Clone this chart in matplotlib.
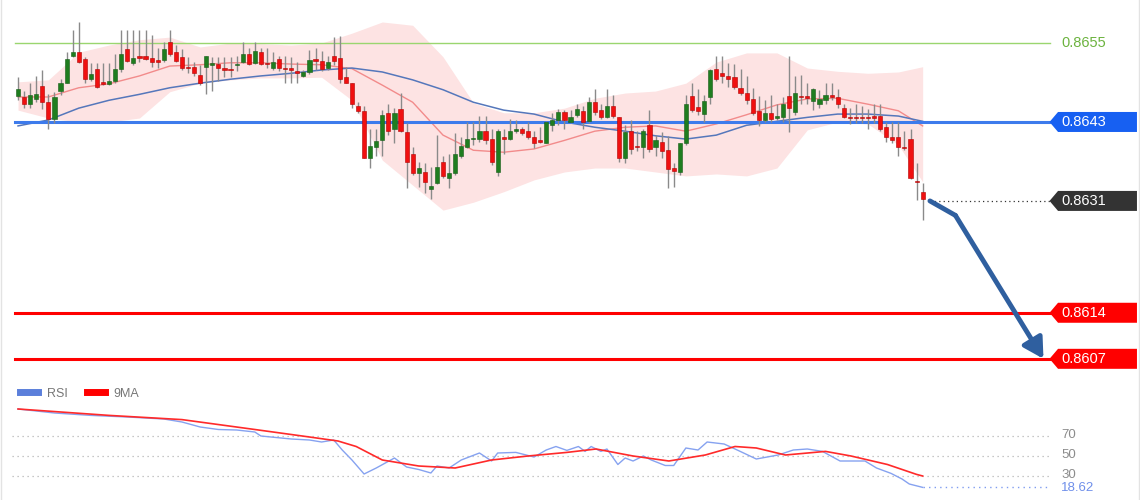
import matplotlib
matplotlib.use("Agg")
import matplotlib.pyplot as plt
from matplotlib.patches import Polygon
from matplotlib.lines import Line2D

plt.rcParams["font.family"] = ["Liberation Sans", "DejaVu Sans"]

# =========================
# 1. Data
# =========================
opens = [0.86469, 0.86468, 0.86457, 0.86465, 0.86484, 0.86460, 0.86434, 0.86477, 0.86490, 0.86530,
         0.86536, 0.86525, 0.86495, 0.86510, 0.86490, 0.86487, 0.86492, 0.86510, 0.86541, 0.86519,
         0.86530, 0.86531, 0.86527, 0.86524, 0.86524, 0.86551, 0.86536, 0.86528, 0.86513, 0.86513,
         0.86501, 0.86513, 0.86516, 0.86518, 0.86512, 0.86510, 0.86516, 0.86521, 0.86533, 0.86519,
         0.86536, 0.86519, 0.86512, 0.86525, 0.86512, 0.86512, 0.86506, 0.86500, 0.86506, 0.86525,
         0.86522, 0.86512, 0.86530, 0.86527, 0.86498, 0.86490, 0.86454, 0.86446, 0.86376, 0.86392,
         0.86402, 0.86443, 0.86419, 0.86449, 0.86414, 0.86381, 0.86352, 0.86354, 0.86328, 0.86337,
         0.86369, 0.86345, 0.86352, 0.86379, 0.86392, 0.86404, 0.86404, 0.86417, 0.86404, 0.86354,
         0.86407, 0.86404, 0.86416, 0.86420, 0.86417, 0.86407, 0.86402, 0.86398, 0.86425, 0.86433,
         0.86445, 0.86430, 0.86440, 0.86446, 0.86431, 0.86460, 0.86448, 0.86437, 0.86455, 0.86437,
         0.86376, 0.86416, 0.86393, 0.86392, 0.86425, 0.86392, 0.86399, 0.86387, 0.86360, 0.86354,
         0.86398, 0.86469, 0.86452, 0.86442, 0.86468, 0.86510, 0.86504, 0.86500, 0.86498, 0.86481,
         0.86474, 0.86465, 0.86446, 0.86433, 0.86443, 0.86436, 0.86437, 0.86469, 0.86445, 0.86469,
         0.86469, 0.86462, 0.86458, 0.86463, 0.86471, 0.86468, 0.86452, 0.86437, 0.86437, 0.86437,
         0.86437, 0.86439, 0.86439, 0.86422, 0.86407, 0.86407, 0.86392, 0.86404, 0.86340, 0.86323]

closes = [0.86480, 0.86457, 0.86471, 0.86472, 0.86460, 0.86434, 0.86468, 0.86489, 0.86525, 0.86536,
          0.86521, 0.86496, 0.86503, 0.86483, 0.86487, 0.86493, 0.86510, 0.86534, 0.86522, 0.86527,
          0.86527, 0.86525, 0.86521, 0.86521, 0.86541, 0.86533, 0.86522, 0.86512, 0.86512, 0.86504,
          0.86489, 0.86530, 0.86519, 0.86512, 0.86509, 0.86509, 0.86518, 0.86533, 0.86518, 0.86538,
          0.86518, 0.86518, 0.86521, 0.86512, 0.86510, 0.86509, 0.86505, 0.86506, 0.86524, 0.86522,
          0.86510, 0.86521, 0.86522, 0.86496, 0.86490, 0.86457, 0.86446, 0.86376, 0.86393, 0.86401,
          0.86440, 0.86416, 0.86443, 0.86416, 0.86369, 0.86352, 0.86360, 0.86338, 0.86332, 0.86361,
          0.86348, 0.86352, 0.86382, 0.86393, 0.86404, 0.86405, 0.86416, 0.86402, 0.86369, 0.86417,
          0.86404, 0.86417, 0.86419, 0.86413, 0.86407, 0.86398, 0.86399, 0.86430, 0.86433, 0.86445,
          0.86433, 0.86437, 0.86449, 0.86430, 0.86460, 0.86445, 0.86437, 0.86454, 0.86439, 0.86376,
          0.86414, 0.86389, 0.86392, 0.86417, 0.86389, 0.86402, 0.86386, 0.86358, 0.86355, 0.86398,
          0.86458, 0.86448, 0.86446, 0.86462, 0.86509, 0.86495, 0.86500, 0.86495, 0.86483, 0.86474,
          0.86463, 0.86443, 0.86433, 0.86443, 0.86434, 0.86439, 0.86458, 0.86451, 0.86474, 0.86468,
          0.86467, 0.86480, 0.86465, 0.86471, 0.86468, 0.86457, 0.86437, 0.86436, 0.86436, 0.86436,
          0.86436, 0.86436, 0.86419, 0.86407, 0.86402, 0.86392, 0.86390, 0.86345, 0.86338, 0.86313]

highs = [0.86498, 0.86477, 0.86489, 0.86500, 0.86509, 0.86472, 0.86475, 0.86496, 0.86536, 0.86570,
         0.86582, 0.86528, 0.86519, 0.86519, 0.86519, 0.86519, 0.86533, 0.86570, 0.86570, 0.86570,
         0.86570, 0.86570, 0.86562, 0.86542, 0.86551, 0.86570, 0.86547, 0.86541, 0.86528, 0.86521,
         0.86516, 0.86531, 0.86528, 0.86528, 0.86528, 0.86528, 0.86531, 0.86551, 0.86542, 0.86551,
         0.86542, 0.86542, 0.86536, 0.86531, 0.86530, 0.86528, 0.86521, 0.86509, 0.86539, 0.86542,
         0.86538, 0.86531, 0.86559, 0.86560, 0.86513, 0.86490, 0.86460, 0.86455, 0.86419, 0.86419,
         0.86448, 0.86458, 0.86452, 0.86474, 0.86428, 0.86392, 0.86369, 0.86367, 0.86361, 0.86410,
         0.86379, 0.86382, 0.86413, 0.86407, 0.86430, 0.86430, 0.86439, 0.86439, 0.86419, 0.86420,
         0.86419, 0.86434, 0.86433, 0.86422, 0.86430, 0.86417, 0.86422, 0.86431, 0.86443, 0.86449,
         0.86448, 0.86448, 0.86458, 0.86454, 0.86468, 0.86480, 0.86458, 0.86480, 0.86471, 0.86437,
         0.86425, 0.86433, 0.86416, 0.86420, 0.86448, 0.86410, 0.86414, 0.86408, 0.86367, 0.86398,
         0.86471, 0.86489, 0.86480, 0.86471, 0.86510, 0.86530, 0.86530, 0.86519, 0.86518, 0.86510,
         0.86500, 0.86481, 0.86469, 0.86463, 0.86471, 0.86457, 0.86468, 0.86531, 0.86500, 0.86501,
         0.86489, 0.86481, 0.86478, 0.86489, 0.86489, 0.86480, 0.86457, 0.86451, 0.86458, 0.86455,
         0.86449, 0.86458, 0.86458, 0.86430, 0.86430, 0.86430, 0.86417, 0.86419, 0.86367, 0.86337]

lows = [0.86463, 0.86451, 0.86452, 0.86460, 0.86449, 0.86420, 0.86428, 0.86471, 0.86489, 0.86528,
        0.86519, 0.86490, 0.86493, 0.86481, 0.86486, 0.86486, 0.86490, 0.86506, 0.86521, 0.86516,
        0.86521, 0.86524, 0.86513, 0.86512, 0.86521, 0.86531, 0.86521, 0.86509, 0.86504, 0.86500,
        0.86486, 0.86472, 0.86477, 0.86493, 0.86498, 0.86498, 0.86507, 0.86519, 0.86516, 0.86518,
        0.86516, 0.86512, 0.86509, 0.86507, 0.86490, 0.86489, 0.86489, 0.86498, 0.86503, 0.86509,
        0.86507, 0.86509, 0.86516, 0.86490, 0.86489, 0.86452, 0.86443, 0.86375, 0.86360, 0.86379,
        0.86379, 0.86410, 0.86398, 0.86414, 0.86329, 0.86349, 0.86331, 0.86322, 0.86313, 0.86335,
        0.86345, 0.86329, 0.86349, 0.86376, 0.86390, 0.86395, 0.86399, 0.86396, 0.86364, 0.86348,
        0.86382, 0.86402, 0.86413, 0.86410, 0.86404, 0.86390, 0.86398, 0.86398, 0.86416, 0.86425,
        0.86420, 0.86428, 0.86437, 0.86420, 0.86428, 0.86440, 0.86434, 0.86436, 0.86436, 0.86369,
        0.86367, 0.86381, 0.86386, 0.86375, 0.86384, 0.86379, 0.86376, 0.86329, 0.86331, 0.86349,
        0.86395, 0.86445, 0.86440, 0.86430, 0.86458, 0.86493, 0.86490, 0.86483, 0.86480, 0.86471,
        0.86458, 0.86440, 0.86424, 0.86430, 0.86430, 0.86433, 0.86430, 0.86414, 0.86440, 0.86458,
        0.86458, 0.86448, 0.86451, 0.86458, 0.86463, 0.86451, 0.86436, 0.86427, 0.86428, 0.86428,
        0.86420, 0.86428, 0.86417, 0.86399, 0.86398, 0.86379, 0.86387, 0.86343, 0.86311, 0.86281]

# indicator curves sampled every 5 candles
ind_idx = [0, 5, 10, 15, 20, 25, 30, 35, 40, 45, 50, 55, 60, 65, 70, 75, 80, 85, 90, 95,
           100, 105, 110, 115, 120, 125, 130, 135, 140, 145, 149]
ma_slow = [0.86424, 0.86433, 0.86451, 0.86463, 0.86472, 0.86482, 0.86489, 0.86495, 0.86500, 0.86504,
           0.86509, 0.86512, 0.86506, 0.86494, 0.86479, 0.86460, 0.86448, 0.86442, 0.86430, 0.86422,
           0.86416, 0.86409, 0.86404, 0.86410, 0.86425, 0.86431, 0.86437, 0.86442, 0.86442, 0.86439, 0.86431]
ma_fast = [0.86468, 0.86468, 0.86482, 0.86488, 0.86500, 0.86515, 0.86517, 0.86520, 0.86520, 0.86518,
           0.86517, 0.86511, 0.86486, 0.86460, 0.86410, 0.86387, 0.86384, 0.86389, 0.86402, 0.86416,
           0.86422, 0.86424, 0.86416, 0.86427, 0.86441, 0.86456, 0.86465, 0.86466, 0.86457, 0.86447, 0.86424]
bb_upper = [0.86491, 0.86494, 0.86536, 0.86547, 0.86555, 0.86559, 0.86544, 0.86550, 0.86549, 0.86547,
            0.86550, 0.86565, 0.86582, 0.86577, 0.86529, 0.86459, 0.86444, 0.86444, 0.86451, 0.86466,
            0.86474, 0.86477, 0.86489, 0.86521, 0.86535, 0.86535, 0.86512, 0.86507, 0.86504, 0.86506, 0.86514]
bb_lower = [0.86448, 0.86436, 0.86430, 0.86430, 0.86436, 0.86476, 0.86489, 0.86494, 0.86497, 0.86497,
            0.86498, 0.86463, 0.86372, 0.86334, 0.86296, 0.86308, 0.86324, 0.86342, 0.86354, 0.86360,
            0.86360, 0.86354, 0.86348, 0.86351, 0.86348, 0.86360, 0.86418, 0.86430, 0.86427, 0.86395, 0.86339]

# key levels
resistance = 0.8655
pivot = 0.8643
last_price = 0.8631
support1 = 0.8614
support2 = 0.8607

# RSI panel
rsi_idx = [0, 6, 12, 18, 24, 27, 30, 33, 36, 39, 40, 45, 48, 50, 52, 53.4, 55, 57, 59, 62,
           64, 66, 68, 69, 71, 73, 76, 78, 79, 82, 85, 87, 88.6, 90.4, 92.3, 93.4, 94.4, 96, 97,
           98.8, 100, 101.3, 103, 104.3, 106.6, 108, 110, 112, 113.5, 116.3, 118.6, 121.6, 123.4,
           125.2, 127.7, 130, 132.5, 135.4, 139.5, 141.4, 143.8, 145.6, 146.8, 149]
rsi_val = [97, 93, 90.6, 89, 87, 84, 79, 76.5, 76, 74, 70, 67, 66, 64, 66, 56, 46, 32, 38, 48,
           39, 36.5, 33, 40, 38, 46, 53, 45, 53, 53.6, 49, 56, 59.5, 55.6, 59.5, 54.6, 59.5, 54.6, 57,
           41.5, 48, 45, 50, 46, 40.5, 40.5, 58, 56, 64, 62, 55.6, 47, 49,
           51, 56, 57, 54.6, 45, 45, 38, 32.6, 27, 22, 18.62]
ma9_idx = [0, 15, 27, 39, 48, 52.7, 55.7, 60, 66, 72, 78, 84, 90.4, 95.2, 101.3, 107.2, 113.2,
           118.1, 121.6, 126.4, 133, 137.2, 143.2, 148, 149]
ma9_val = [97, 90.6, 86.4, 76.5, 69, 65, 59.5, 46, 40, 38, 46, 50, 53.6, 57, 50, 45, 51,
           59.5, 58, 51, 54.6, 50, 41.5, 31.6, 30]
rsi_levels = [70, 50, 30]
rsi_last = 18.62

# =========================
# 2. Figure & axes
# =========================
fig = plt.figure(figsize=(11.4, 5.0), dpi=100)
ax = fig.add_axes([0, 120 / 500, 1, 380 / 500])
ax2 = fig.add_axes([0, 0, 1, 120 / 500])
x_lim = (-2.97, 184.8)
for a in (ax, ax2):
    a.set_xlim(*x_lim)
    a.set_axis_off()
ax.set_ylim(0.860378, 0.866154)
ax2.set_ylim(6, 126)

line_x0, tag_x = -0.5, 169.9

# =========================
# 3. Bollinger band & moving averages
# =========================
ax.fill_between(ind_idx, bb_lower, bb_upper, color="#fde3e3", lw=0, zorder=1)
ax.plot(ind_idx, ma_fast, color="#f28b8b", lw=1.0, zorder=2)
ax.plot(ind_idx, ma_slow, color="#5577bb", lw=1.1, zorder=2)

# =========================
# 4. Horizontal levels
# =========================
ax.plot([line_x0, tag_x], [resistance, resistance], color="#9ad66f", lw=1, zorder=3)
ax.plot([line_x0, tag_x], [pivot, pivot], color="#3d7bec", lw=2.2, zorder=3)
ax.plot([line_x0, tag_x], [support1, support1], color="#ff0000", lw=2.2, zorder=3)
ax.plot([line_x0, tag_x], [support2, support2], color="#ff0000", lw=2.2, zorder=3)
ax.plot([150.2, tag_x], [last_price, last_price], color="#333333", lw=0.9, ls=(0, (1, 2.5)), zorder=3)

# =========================
# 5. Candles
# =========================
idx = list(range(len(opens)))
for i in idx:
    o, c, h, l = opens[i], closes[i], highs[i], lows[i]
    up = c >= o
    ax.vlines(i, l, h, color="#8a8a8a", lw=1, zorder=4)
    body = max(abs(c - o), 0.00002)
    ax.bar(i, body, bottom=min(o, c), width=0.68,
           color="#1f7d1f" if up else "#f01010",
           edgecolor="#165c16" if up else "#b00000", lw=0.4, zorder=5)


# =========================
# 6. Price tags on the right
# =========================
def price_tag(y, text, color):
    h = 0.000152
    x1, x2 = 171.3, 184.3
    poly = Polygon([(tag_x, y), (x1, y + h), (x2, y + h), (x2, y - h), (x1, y - h)],
                   closed=True, fc=color, ec="none", zorder=6)
    ax.add_patch(poly)
    ax.text(x1 + 0.5, y, text, color="white", va="center", ha="left", fontsize=10.5, zorder=7)


ax.text(171.8, resistance, "%.4f" % resistance, color="#6cb33f", va="center", ha="left", fontsize=10.5)
price_tag(pivot, "%.4f" % pivot, "#1760f2")
price_tag(last_price, "%.4f" % last_price, "#333333")
price_tag(support1, "%.4f" % support1, "#ff0000")
price_tag(support2, "%.4f" % support2, "#ff0000")

# forecast arrow
arrow_col = "#2f5f9f"
ax.plot([150.2, 154.4], [last_price, 0.86288], color=arrow_col, lw=3.5, solid_capstyle="round", zorder=8)
ax.annotate("", xy=(168.9, support2), xytext=(154.4, 0.86288),
            arrowprops=dict(arrowstyle="-|>,head_length=0.8,head_width=0.45", color=arrow_col,
                            lw=3.5, mutation_scale=15, shrinkA=0, shrinkB=0), zorder=8)

# =========================
# 7. RSI panel
# =========================
for lv in rsi_levels:
    ax2.plot([-1, tag_x], [lv, lv], color="#b5b5b5", lw=0.9, ls=(0, (1, 3)))
    ax2.text(171.8, lv + 0.5, str(lv), color="#8c8c8c", va="center", ha="left", fontsize=9.5)
ax2.plot([149, tag_x], [rsi_last, rsi_last], color="#7f9cf0", lw=1, ls=(0, (1, 3)))
ax2.text(171.8, rsi_last - 0.8, "%.2f" % rsi_last, color="#6f8fea", va="center", ha="left", fontsize=9.5)

ax2.plot(rsi_idx, rsi_val, color="#86a2f0", lw=1.0)
ax2.plot(ma9_idx, ma9_val, color="#ff2a2a", lw=1.2)

handles = [Line2D([], [], color="#5b7fdb", lw=5), Line2D([], [], color="#ff0000", lw=5)]
ax2.legend(handles, ["RSI", "9MA"], loc="upper left", bbox_to_anchor=(0.008, 1.03), ncol=2,
           frameon=False, fontsize=9, handlelength=1.4, columnspacing=1.6, handletextpad=0.7,
           labelcolor="#777777")

fig.add_artist(Line2D([0.001, 0.001], [0, 1], color="#e3e3e3", lw=1))
fig.add_artist(Line2D([0.999, 0.999], [0, 1], color="#e3e3e3", lw=1))

fig.savefig("out.png", dpi=100, facecolor="white")
